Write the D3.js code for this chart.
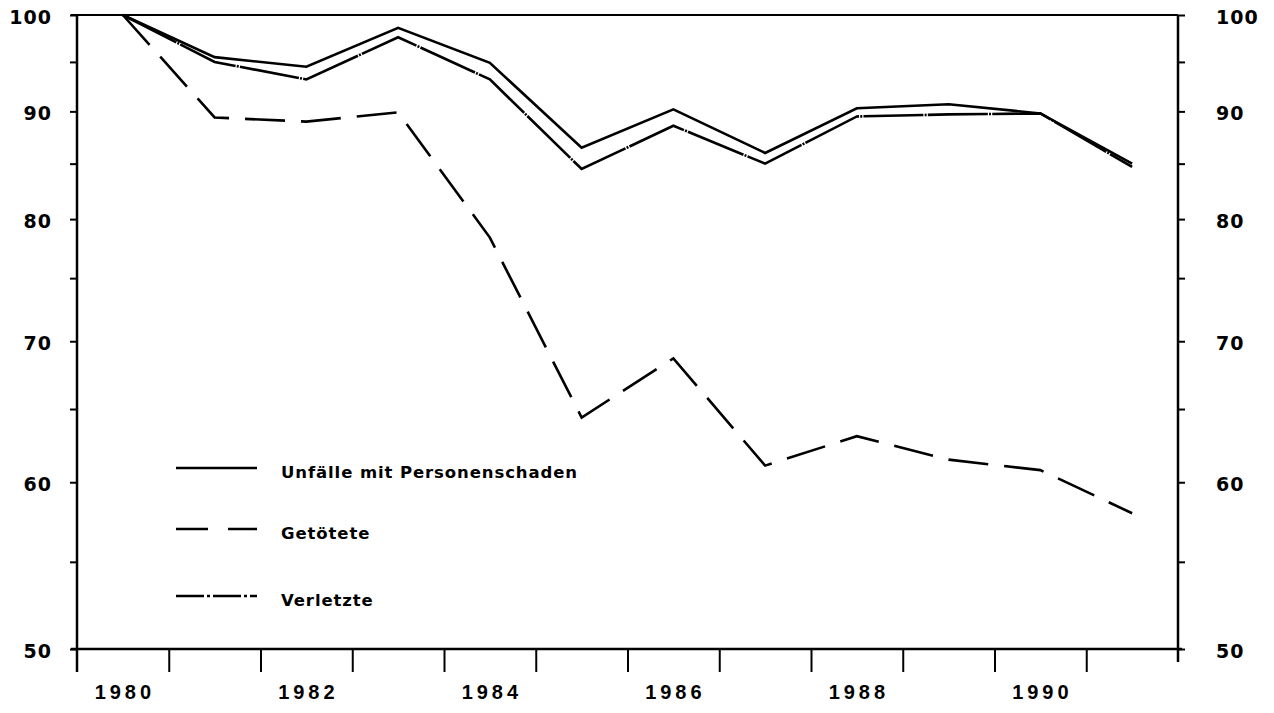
<!DOCTYPE html>
<html>
<head>
<meta charset="utf-8">
<script src="https://cdn.jsdelivr.net/npm/d3@7"></script>
<style>
  body { margin: 0; background: #fff; }
  svg { display: block; }
</style>
</head>
<body>
<div class="chart"></div>
<script>
// years 1980..1991, index 1980 = 100
var years = [1980, 1981, 1982, 1983, 1984, 1985, 1986, 1987, 1988, 1989, 1990, 1991];
var yearLabels = [1980, 1982, 1984, 1986, 1988, 1990];
var unfaelle = [100, 95.5, 94.5, 98.6, 94.9, 86.5, 90.2, 86.0, 90.3, 90.7, 89.8, 85.0];
var getoetete = [100, 89.4, 89.0, 89.9, 78.4, 64.4, 68.7, 61.1, 63.1, 61.5, 60.8, 58.0];
var verletzte = [100, 95.0, 93.2, 97.6, 93.2, 84.5, 88.6, 85.0, 89.5, 89.7, 89.8, 84.7];
var yTicks = [50, 55, 60, 65, 70, 75, 80, 85, 90, 95, 100];
var seriesNames = ["Unfälle mit Personenschaden", "Getötete", "Verletzte"];

var width = 1274, height = 713;
var margin = { top: 15, right: 96, bottom: 64, left: 77 };

var svg = d3.select(".chart")
    .append("svg")
    .attr("width", width)
    .attr("height", height);

// year bands: ticks on the edges, points and labels in the middle
var x = d3.scaleLinear()
    .domain([1980, 1992])
    .range([margin.left, width - margin.right]);

var y = d3.scaleLog()
    .domain([50, 100])
    .range([height - margin.bottom, margin.top]);

var axisFont = "'DejaVu Sans', sans-serif";

// frame: top line, axis extensions
svg.append("line")
    .attr("x1", x(1980) - 6).attr("x2", x(1992))
    .attr("y1", y(100)).attr("y2", y(100))
    .style("stroke", "#000").style("stroke-width", 2);
svg.append("line")
    .attr("x1", x(1980)).attr("x2", x(1980))
    .attr("y1", y(100)).attr("y2", y(50) + 23)
    .style("stroke", "#000").style("stroke-width", 2.5);
svg.append("line")
    .attr("x1", x(1992)).attr("x2", x(1992))
    .attr("y1", y(100)).attr("y2", y(50) + 13)
    .style("stroke", "#000").style("stroke-width", 2.5);
svg.append("line")
    .attr("x1", x(1980) - 6).attr("x2", x(1992) + 4)
    .attr("y1", y(50)).attr("y2", y(50))
    .style("stroke", "#000").style("stroke-width", 2.5);

function styleAxis(g) {
    g.select(".domain").remove();
    g.selectAll(".tick line").style("stroke", "#000").style("stroke-width", 2);
    g.selectAll("text")
        .style("font-family", axisFont)
        .style("font-weight", "bold")
        .style("font-size", "19px")
        .style("letter-spacing", "1px")
        .style("fill", "#000");
}

var yFormat = function (d) { return d % 10 === 0 ? d : ""; };

svg.append("g")
    .attr("transform", "translate(" + x(1980) + ",0)")
    .call(d3.axisLeft(y).tickValues(yTicks).tickFormat(yFormat).tickSize(7).tickPadding(18))
    .call(styleAxis)
    .selectAll("text").attr("dy", "0.45em");

svg.append("g")
    .attr("transform", "translate(" + x(1992) + ",0)")
    .call(d3.axisRight(y).tickValues(yTicks).tickFormat(yFormat).tickSize(7).tickPadding(31))
    .call(styleAxis)
    .selectAll("text").attr("dy", "0.45em");

var xAxis = svg.append("g")
    .attr("transform", "translate(0," + y(50) + ")")
    .call(d3.axisBottom(x).tickValues(d3.range(1981, 1992)).tickFormat("").tickSize(23))
    .call(styleAxis);

svg.append("g")
    .selectAll("text")
    .data(yearLabels)
    .enter().append("text")
    .attr("x", function (d) { return x(d + 0.5) + 2; })
    .attr("y", height - 14)
    .attr("text-anchor", "middle")
    .style("font-family", "'Liberation Sans', Arial, sans-serif")
    .style("font-weight", "bold")
    .style("font-size", "20px")
    .style("letter-spacing", "4px")
    .text(function (d) { return d; });

// lines
var line = d3.line()
    .x(function (d, i) { return x(years[i] + 0.5); })
    .y(function (d) { return y(d); });

var dashes = ["none", "40,16", "60,1.2,2,1.2"];
var data = [unfaelle, getoetete, verletzte];

svg.append("g")
    .selectAll("path")
    .data(data)
    .enter().append("path")
    .attr("d", line)
    .style("fill", "none")
    .style("stroke", "#000")
    .style("stroke-width", 2.6)
    .style("stroke-linejoin", "miter")
    .style("stroke-dasharray", function (d, i) { return dashes[i]; });

// legend
var legendY = [468, 529, 596];
var legend = svg.append("g").attr("class", "legend");

legend.selectAll("line")
    .data(seriesNames)
    .enter().append("line")
    .attr("x1", 176).attr("x2", 257)
    .attr("y1", function (d, i) { return legendY[i]; })
    .attr("y2", function (d, i) { return legendY[i]; })
    .style("stroke", "#000")
    .style("stroke-width", 2.6)
    .style("stroke-dasharray", function (d, i) { return i === 1 ? "32,20" : i === 2 ? "28,3,3,3" : "none"; });

legend.selectAll("text")
    .data(seriesNames)
    .enter().append("text")
    .attr("x", 281)
    .attr("y", function (d, i) { return legendY[i] + 10; })
    .style("font-family", axisFont)
    .style("font-weight", "bold")
    .style("font-size", "16.5px")
    .style("letter-spacing", "0.9px")
    .text(function (d) { return d; });
</script>
</body>
</html>
